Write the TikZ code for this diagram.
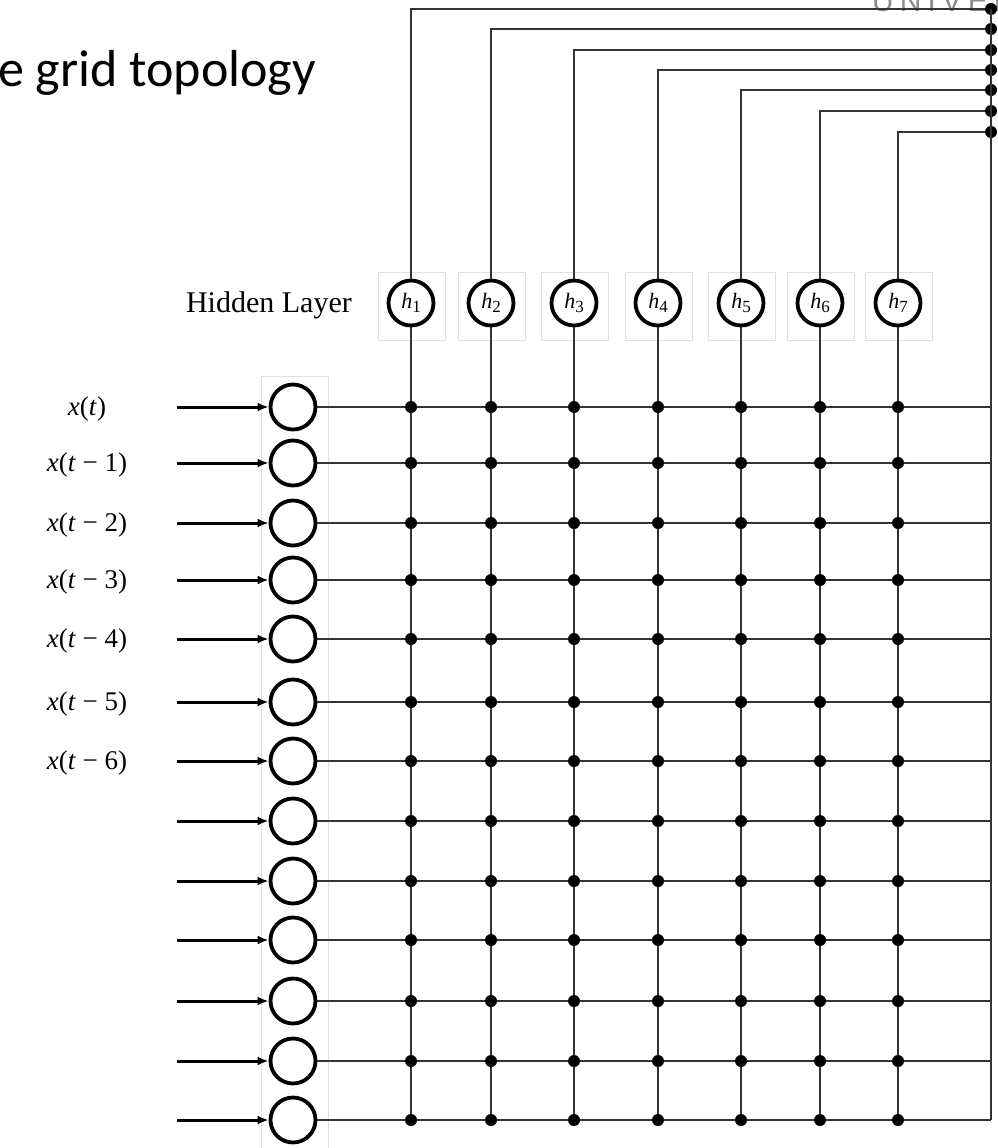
\documentclass[tikz,border=0pt]{standalone}
\usepackage{fontspec}
\setmainfont{Liberation Serif}
\newfontfamily\titelfont{Carlito}
\newfontfamily\logofont[LetterSpace=20]{Liberation Sans}
\usetikzlibrary{arrows.meta}

\tikzset{
	knoten/.style={circle,draw,line width=3.8pt,minimum size=45pt,inner sep=0pt,fill=white},
	rahmen/.style={draw=black!12,line width=0.7pt},
	leitung/.style={line width=2pt,draw=black!80},
	pfeil/.style={line width=3pt,-{Latex[length=11pt,width=9pt]}},
}

\begin{document}
\begin{tikzpicture}[x=1pt,y=-1pt]
	\useasboundingbox (0,0) rectangle (997,1148);
	% Titel und Logo, am Rand abgeschnitten
	\begin{scope}
		\clip (0,0) rectangle (997,1148);
		\node[anchor=base west,inner sep=0pt,font=\titelfont\fontsize{52}{62}\selectfont] (titel) at (-2,86) {e grid topology};
		\node[anchor=base west,inner sep=0pt,text=black!45,font=\logofont\fontsize{30}{36}\selectfont] (logo) at (872,12) {UNIVERSITY};
	\end{scope}
	\node[anchor=base east,inner sep=0pt,font=\fontsize{30}{36}\selectfont] (hl) at (352,312) {Hidden Layer};
	% verdeckte Schicht
	\foreach \x/\yo [count=\j] in {411/9,491/29,574/50,658/70,741/90,820/111,898/132} {
		\draw[rahmen] (\x-33,272) rectangle (\x+34,340);
		\node[knoten,font=\fontsize{22}{26}\selectfont] (h\j) at (\x,303) {\textit{h}\raisebox{-4pt}{\fontsize{17}{17}\selectfont\j}};
		\coordinate (o\j) at (991,\yo);
	}
	% Eingaenge
	\draw[rahmen] (261,376) rectangle (328,1148);
	\foreach \y [count=\i] in {407,463,523,580,639,702,761,821,881,940,1001,1061,1120} {
		\node[knoten] (in\i) at (293,\y) {};
		\coordinate (ein\i) at (177,\y);
		\coordinate (r\i) at (991,\y);
		\foreach \x [count=\j] in {411,491,574,658,741,820,898}
			\coordinate (p\i-\j) at (\x,\y);
	}
	\foreach \n in {0,...,6} {
		\pgfmathtruncatemacro{\i}{\n+1}
		\node[anchor=base,inner sep=0pt,font=\fontsize{27}{32}\selectfont] (lab\i) at ([shift={(-90,8)}]ein\i)
			{\ifnum\n=0 \textit{x}(\textit{t})\else\textit{x}(\textit{t} − \n)\fi};
	}
	% Leitungen
	\foreach \i in {1,...,13} {
		\draw[pfeil] (ein\i) -- (in\i);
		\draw[leitung] (in\i) -- (r\i);
	}
	\foreach \j in {1,...,7} {
		\draw[leitung] (h\j) -- (p13-\j);
		\draw[leitung] (h\j) |- (o\j);
		\fill (o\j) circle (6pt);
	}
	\draw[leitung] (o1) -- (r13);
	% Knotenpunkte
	\foreach \i in {1,...,13}
		\foreach \j in {1,...,7}
			\fill (p\i-\j) circle (6pt);
\end{tikzpicture}
\end{document}
